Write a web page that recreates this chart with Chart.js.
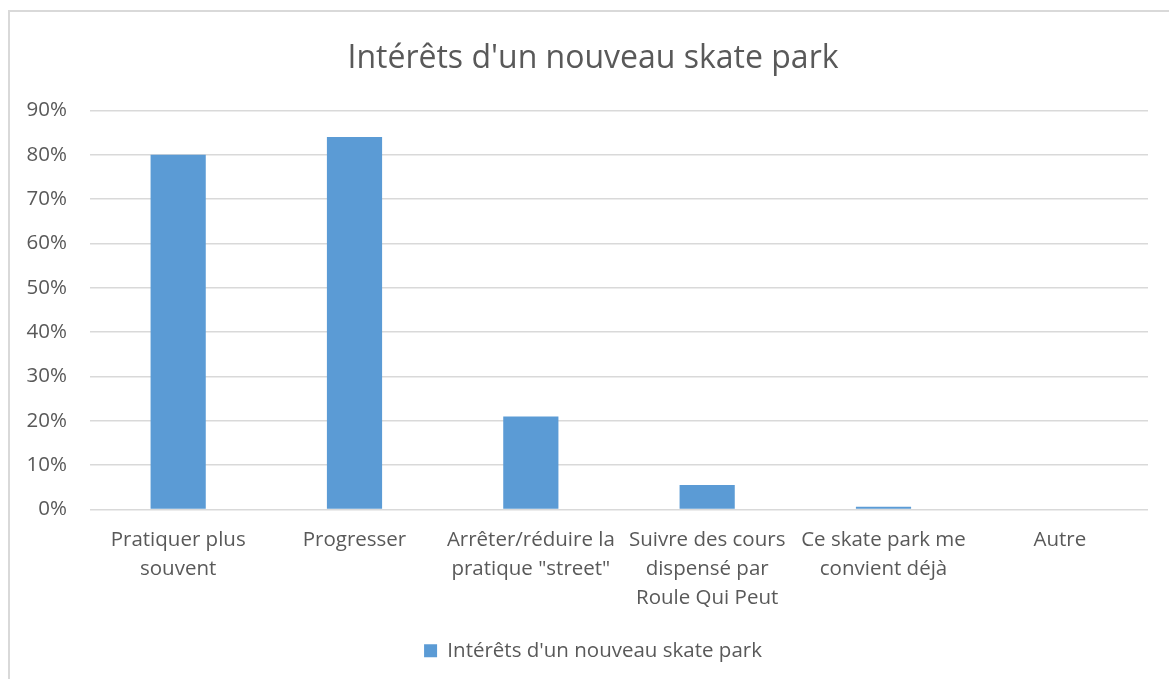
<!DOCTYPE html>
<html>
<head>
<meta charset="utf-8">
<title>Intérêts d'un nouveau skate park</title>
<script src="https://cdn.jsdelivr.net/npm/chart.js@4"></script>
<style>
    html, body { margin: 0; padding: 0; background: #ffffff; overflow: hidden; }
    #frame { position: absolute; left: 8px; top: 10px; width: 1200px; height: 720px; border: 2px solid #d9d9d9; }
    #myChart { position: absolute; left: 0; top: 0; }
</style>
</head>
<body>
<div id="frame"></div>
<canvas id="myChart" width="1169" height="679"></canvas>
<script>
var labelList = [
    ['Pratiquer plus', 'souvent'],
    'Progresser',
    ['Arrêter/réduire la', 'pratique "street"'],
    ['Suivre des cours', 'dispensé par', 'Roule Qui Peut'],
    ['Ce skate park me', 'convient déjà'],
    'Autre'
]
var valueList = [80, 84, 21, 5.5, 0.6, 0]
var seriesName = "Intérêts d'un nouveau skate park"
var tickValues = [0, 10, 20, 30, 40, 50, 60, 70, 80, 90]

var textColor = '#595959'
var gridColor = '#d9d9d9'

var myChart = new Chart("myChart", {
    type: "bar",
    data: {
        labels: labelList,
        datasets: [{
            label: seriesName,
            backgroundColor: '#5b9bd5',
            data: valueList,
            barPercentage: 0.313,
            categoryPercentage: 1
        }]
    },
    options: {
        responsive: false,
        animation: false,
        // le cadre excel est plus large que l'image, titre et légende sont centrés vers 593
        layout: { padding: { left: 24, right: 7, top: 0, bottom: 8 } },
        plugins: {
            title: {
                display: true,
                text: seriesName,
                color: textColor,
                font: { family: 'Open Sans', size: 32, weight: 'normal' },
                padding: { top: 40, bottom: 32 }
            },
            legend: {
                position: 'bottom',
                labels: {
                    color: textColor,
                    font: { family: 'Open Sans', size: 20.5 },
                    boxWidth: 13,
                    boxHeight: 13,
                    padding: 6
                }
            },
            tooltip: { enabled: false }
        },
        scales: {
            x: {
                grid: { display: false },
                border: { display: false },
                ticks: {
                    color: textColor,
                    font: { family: 'Open Sans', size: 20.5, lineHeight: 1.41 },
                    padding: 8,
                    maxRotation: 0,
                    autoSkip: false
                },
                afterFit: function (scale) { scale.height = 125 }
            },
            y: {
                min: 0,
                max: 90,
                afterBuildTicks: function (scale) {
                    scale.ticks = tickValues.map(function (v) { return { value: v } })
                },
                grid: { color: gridColor, lineWidth: 1.5, drawTicks: false },
                border: { display: false },
                ticks: {
                    color: textColor,
                    font: { family: 'Open Sans', size: 20.5 },
                    padding: 23,
                    callback: function (v) { return v + '%' }
                },
                afterFit: function (scale) { scale.width = 66 }
            },
            // axe vide à droite, juste pour garder la marge
            yRight: {
                type: 'linear',
                position: 'right',
                grid: { display: false },
                border: { display: false },
                ticks: { display: false },
                afterFit: function (scale) { scale.width = 14 }
            }
        }
    }
});
</script>
</body>
</html>
